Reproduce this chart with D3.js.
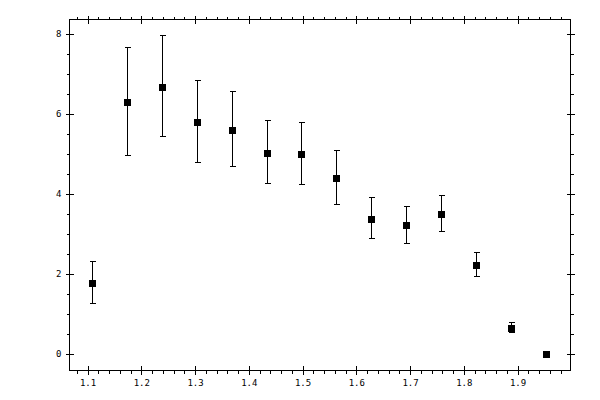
<!DOCTYPE html>
<html><head><meta charset="utf-8">
<script src="https://cdn.jsdelivr.net/npm/d3@7"></script>
<style>
html,body{margin:0;padding:0;background:#fff;}
svg{display:block;}
.tick text{font-family:"DejaVu Sans Mono",monospace;font-size:9px;fill:#000;}
</style></head>
<body>
<svg id="chart" width="600" height="400"></svg>
<script>
// Data
const xValues = [1.109, 1.174, 1.239, 1.304, 1.369, 1.434, 1.499, 1.564, 1.629, 1.694, 1.759, 1.824, 1.889, 1.954];
const yValues = [1.775, 6.30, 6.675, 5.80, 5.60, 5.025, 5.00, 4.40, 3.375, 3.225, 3.50, 2.225, 0.65, 0.0];
const yHigh   = [2.30, 7.65, 7.95, 6.825, 6.55, 5.815, 5.765, 5.075, 3.90, 3.675, 3.95, 2.525, 0.775, 0.0];
const yLow    = [1.25, 4.95, 5.425, 4.775, 4.675, 4.26, 4.225, 3.725, 2.875, 2.75, 3.05, 1.925, 0.525, 0.0];
const xMajorTicks = [1.1, 1.2, 1.3, 1.4, 1.5, 1.6, 1.7, 1.8, 1.9];
const yMajorTicks = [0, 2, 4, 6, 8];

const svg = d3.select("#chart");
const L = 69.5, R = 570.5, T = 19.5, B = 370.5;
const x = d3.scaleLinear().domain([1.06651, 1.99860]).range([L, R]);
const y = d3.scaleLinear().domain([-0.425, 8.35]).range([B, T]);

const xMinor = d3.range(1.08, 1.99, 0.02).map(v => +v.toFixed(2)).filter(v => !xMajorTicks.some(m => Math.abs(m - v) < 1e-6));
const yMinor = d3.range(0, 8.01, 0.5).filter(v => !yMajorTicks.includes(v));

function styleAxis(g, labels) {
  g.select(".domain").remove();
  g.selectAll("line").attr("stroke", "#000").attr("stroke-width", 1).attr("shape-rendering", "crispEdges");
  if (!labels) g.selectAll("text").remove();
}

// bottom
svg.append("g").attr("transform", `translate(0,${B})`)
  .call(d3.axisBottom(x).tickValues(xMajorTicks).tickSize(4).tickPadding(5).tickFormat(d3.format(".1f")))
  .call(g => styleAxis(g, true));
svg.append("g").attr("transform", `translate(0,${B})`)
  .call(d3.axisBottom(x).tickValues(xMajorTicks).tickSize(-5)).call(g => styleAxis(g, false));
svg.append("g").attr("transform", `translate(0,${B})`)
  .call(d3.axisBottom(x).tickValues(xMinor).tickSize(3)).call(g => styleAxis(g, false));
// top
svg.append("g").attr("transform", `translate(0,${T})`)
  .call(d3.axisTop(x).tickValues(xMajorTicks).tickSize(4)).call(g => styleAxis(g, false));
svg.append("g").attr("transform", `translate(0,${T})`)
  .call(d3.axisTop(x).tickValues(xMajorTicks).tickSize(-4)).call(g => styleAxis(g, false));
svg.append("g").attr("transform", `translate(0,${T})`)
  .call(d3.axisTop(x).tickValues(xMinor).tickSize(3)).call(g => styleAxis(g, false));
// left
svg.append("g").attr("transform", `translate(${L},0)`)
  .call(d3.axisLeft(y).tickValues(yMajorTicks).tickSize(4).tickPadding(4).tickFormat(d3.format("d")))
  .call(g => styleAxis(g, true));
svg.append("g").attr("transform", `translate(${L},0)`)
  .call(d3.axisLeft(y).tickValues(yMajorTicks).tickSize(-4)).call(g => styleAxis(g, false));
svg.append("g").attr("transform", `translate(${L},0)`)
  .call(d3.axisLeft(y).tickValues(yMinor).tickSize(3)).call(g => styleAxis(g, false));
// right
svg.append("g").attr("transform", `translate(${R},0)`)
  .call(d3.axisRight(y).tickValues(yMajorTicks).tickSize(4)).call(g => styleAxis(g, false));
svg.append("g").attr("transform", `translate(${R},0)`)
  .call(d3.axisRight(y).tickValues(yMajorTicks).tickSize(-4)).call(g => styleAxis(g, false));
svg.append("g").attr("transform", `translate(${R},0)`)
  .call(d3.axisRight(y).tickValues(yMinor).tickSize(3)).call(g => styleAxis(g, false));

// frame
svg.append("rect").attr("x", L).attr("y", T).attr("width", R - L).attr("height", B - T)
  .attr("fill", "none").attr("stroke", "#000").attr("stroke-width", 1).attr("shape-rendering", "crispEdges");

const data = xValues.map((xv, i) => ({x: xv, y: yValues[i], lo: yLow[i], hi: yHigh[i]}));
const px = d => Math.floor(x(d.x)) + 0.5;

const eb = svg.append("g").attr("stroke", "#000").attr("stroke-width", 1).attr("shape-rendering", "crispEdges");
eb.selectAll(".v").data(data).join("line")
  .attr("x1", px).attr("x2", px)
  .attr("y1", d => y(d.hi)).attr("y2", d => y(d.lo));
eb.selectAll(".ct").data(data).join("line")
  .attr("x1", d => px(d) - 3).attr("x2", d => px(d) + 3)
  .attr("y1", d => y(d.hi)).attr("y2", d => y(d.hi));
eb.selectAll(".cb").data(data).join("line")
  .attr("x1", d => px(d) - 3).attr("x2", d => px(d) + 3)
  .attr("y1", d => y(d.lo)).attr("y2", d => y(d.lo));

svg.append("g").selectAll("rect").data(data).join("rect")
  .attr("x", d => px(d) - 3.5).attr("y", d => Math.round(y(d.y)) - 3.5)
  .attr("width", 7).attr("height", 7).attr("fill", "#000").attr("shape-rendering", "crispEdges");
</script>
</body></html>
